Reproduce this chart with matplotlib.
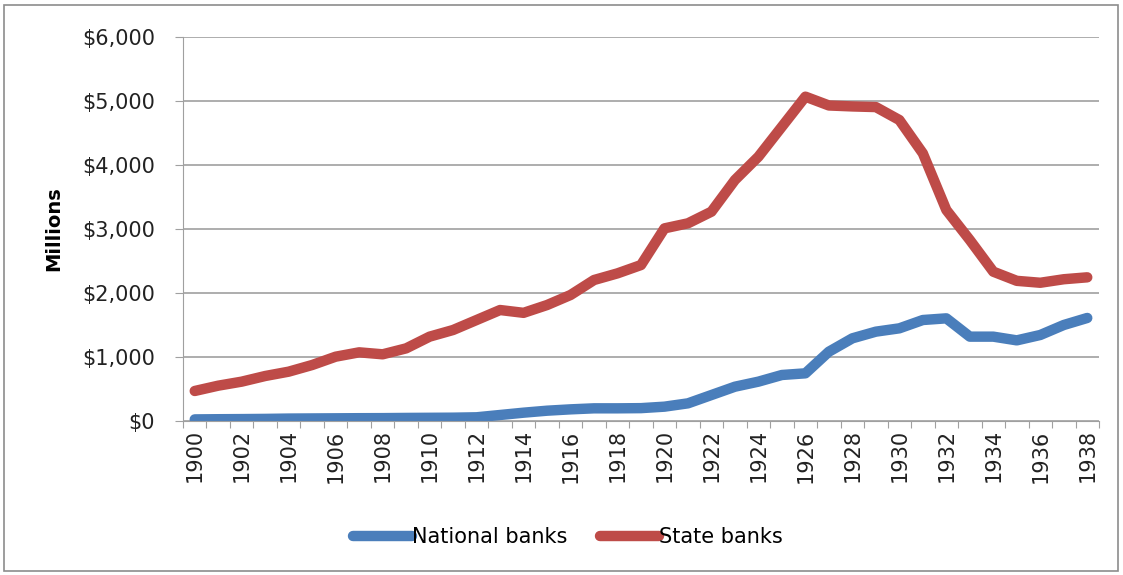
import numpy as np
import matplotlib
matplotlib.use('Agg')
import matplotlib.pyplot as plt
import matplotlib.ticker as ticker
from matplotlib.patches import Rectangle

years = list(range(1900, 1939))
national = [25, 28, 30, 33, 38, 40, 42, 44, 45, 48, 50, 52, 58, 94, 130, 161, 182, 198, 198, 201,
            224, 276, 406, 536, 615, 719, 745, 1083, 1292, 1396, 1448, 1578, 1604, 1318, 1318,
            1260, 1344, 1500, 1610]
state = [469, 552, 615, 703, 771, 875, 1005, 1073, 1042, 1135, 1318, 1422, 1578, 1734, 1690,
         1812, 1969, 2203, 2307, 2437, 3010, 3089, 3271, 3766, 4130, 4599, 5068, 4930, 4915,
         4905, 4703, 4182, 3297, 2828, 2333, 2190, 2160, 2215, 2245]

plt.rcParams['font.family'] = ['DejaVu Sans']

fig = plt.figure(figsize=(11.23, 5.75), dpi=100)
ax = fig.add_axes([183 / 1123, 1 - 421 / 575, (1099 - 183) / 1123, (421 - 37) / 575])

x = np.arange(len(years))
ax.plot(x, national, color='#4A7EBB', linewidth=7.5, label='National banks', solid_capstyle='round')
ax.plot(x, state, color='#BE4B48', linewidth=7.5, label='State banks', solid_capstyle='round')

ax.set_xlim(-0.5, len(years) - 0.5)
ax.set_ylim(0, 6000)
ax.yaxis.set_major_locator(ticker.MultipleLocator(1000))
ax.yaxis.set_major_formatter(ticker.FuncFormatter(lambda v, p: '${:,.0f}'.format(v)))
ax.grid(axis='y', color='#A0A0A0', linewidth=1.2)
ax.set_axisbelow(True)

# tick marks between categories, labels on every second year
ax.set_xticks(np.arange(-0.5, len(years), 1))
ax.set_xticklabels([])
ax.set_xticks(x[::2], minor=True)
ax.set_xticklabels([str(y) for y in years[::2]], minor=True, rotation=90, fontsize=15, color='#222222')
ax.tick_params(axis='x', which='major', length=5, color='#A0A0A0', direction='out')
ax.tick_params(axis='x', which='minor', length=0, pad=6)
ax.tick_params(axis='y', length=6, color='#A0A0A0', labelsize=15, labelcolor='#222222', pad=14)

for s in ['top', 'right']:
    ax.spines[s].set_visible(False)
ax.spines['left'].set_color('#A0A0A0')
ax.spines['bottom'].set_color('#A0A0A0')

ax.set_ylabel('Millions', fontsize=14, fontweight='bold', labelpad=14)

leg = ax.legend(loc='center', bbox_to_anchor=(568 / 1123, 1 - 537 / 575), bbox_transform=fig.transFigure,
                ncol=2, frameon=False, fontsize=15, handlelength=2.8, handletextpad=0.0, columnspacing=1.6)

fig.patches.append(Rectangle((4 / 1123, 4 / 575), 1 - 9 / 1123, 1 - 9 / 575, transform=fig.transFigure,
                             fill=False, edgecolor='#8C8C8C', linewidth=1.2))

fig.savefig('out.png', dpi=100)
